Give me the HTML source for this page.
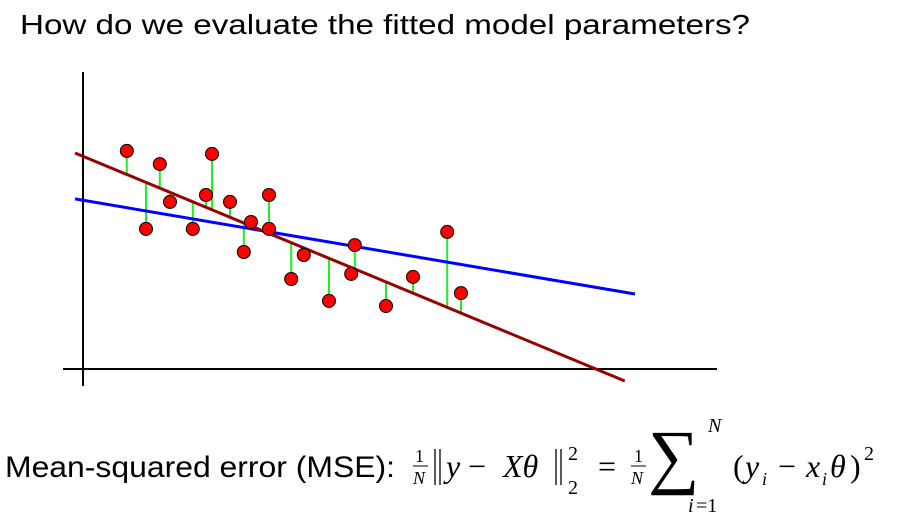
<!DOCTYPE html>
<html><head><meta charset="utf-8"><style>
html,body{margin:0;padding:0;background:#fff;}
svg{display:block;}
.m{font-family:"Liberation Serif",serif;font-style:italic;}
.r{font-family:"Liberation Serif",serif;}
</style></head><body>
<svg id="chart" width="899" height="520" viewBox="0 0 899 520">
<text x="20" y="34" font-family="Liberation Sans, sans-serif" font-size="28" textLength="730" lengthAdjust="spacingAndGlyphs" fill="#000">How do we evaluate the fitted model parameters?</text>
<line x1="83" y1="72" x2="83" y2="386" stroke="#000" stroke-width="2"/>
<line x1="63" y1="369" x2="717" y2="369" stroke="#000" stroke-width="2"/>
<g id="resid"></g>
<g id="lines"></g>
<g id="pts"></g>
<text x="5" y="477" font-family="Liberation Sans, sans-serif" font-size="30" textLength="390" lengthAdjust="spacingAndGlyphs">Mean-squared error (MSE):</text>
<g>
<text x="415" y="462" class="r" font-size="18">1</text>
<line x1="413" y1="466" x2="428" y2="466" stroke="#000" stroke-width="1"/>
<text x="413" y="484" class="m" font-size="18">N</text>
<path d="M435 449V485M440 449V485M556 449V485M561 449V485" stroke="#000" stroke-width="1.3" fill="none"/>
<text x="446" y="477" class="m" font-size="32">y</text>
<text x="468" y="477" class="r" font-size="32">−</text>
<text x="503" y="477" class="m" font-size="32">Xθ</text>
<text x="568" y="460" class="r" font-size="20">2</text>
<text x="568" y="494" class="r" font-size="20">2</text>
<text x="598" y="477" class="r" font-size="32">=</text>
<text x="634" y="462" class="r" font-size="18">1</text>
<line x1="631" y1="466" x2="646" y2="466" stroke="#000" stroke-width="1"/>
<text x="631" y="484" class="m" font-size="18">N</text>
<text x="648" y="480" class="r" font-size="72">∑</text>
<text x="708" y="432" class="m" font-size="20">N</text>
<text x="688" y="512" class="m" font-size="20">i</text>
<text x="696" y="512" class="r" font-size="20">=1</text>
<text x="733" y="477" class="r" font-size="32">(</text>
<text x="745" y="477" class="m" font-size="32">y</text>
<text x="762" y="485" class="m" font-size="18">i</text>
<text x="778" y="477" class="r" font-size="32">−</text>
<text x="806" y="477" class="m" font-size="32">x</text>
<text x="822" y="485" class="m" font-size="18">i</text>
<text x="830" y="477" class="m" font-size="32">θ</text>
<text x="850" y="477" class="r" font-size="32">)</text>
<text x="864" y="460" class="r" font-size="20">2</text>
</g>
</svg>
<script>
const xs=[0.73,1.05,1.28,1.45,1.83,2.05,2.15,2.45,2.68,2.8,3.1,3.1,3.47,3.68,4.1,4.47,4.53,5.05,5.5,6.07,6.3];
const ys=[7.27,4.67,6.83,5.57,4.67,5.8,7.17,5.57,3.9,4.9,5.8,4.67,3.0,3.8,2.27,3.17,4.13,2.1,3.07,4.57,2.53];
const redLine=[[-0.133,7.2],[9.03,-0.4]];
const blueLine=[[-0.133,5.67],[9.2,2.5]];
const NS='http://www.w3.org/2000/svg';
function sx(v){return 83+v*60;}
function sy(v){return 369-v*30;}
function redAt(x){const [a,b]=redLine;return a[1]+(b[1]-a[1])*(x-a[0])/(b[0]-a[0]);}
const resid=document.getElementById('resid'),lines=document.getElementById('lines'),pts=document.getElementById('pts');
for(let i=0;i<xs.length;i++){
  const l=document.createElementNS(NS,'line');
  l.setAttribute('x1',sx(xs[i]));l.setAttribute('x2',sx(xs[i]));
  l.setAttribute('y1',sy(ys[i]));l.setAttribute('y2',sy(redAt(xs[i])));
  l.setAttribute('stroke','#22ee22');l.setAttribute('stroke-width','2');
  
  
  resid.appendChild(l);
}
[[blueLine,'#0000ff','blue-fit-line'],[redLine,'#990000','red-fit-line']].forEach(([ln,c,n])=>{
  const l=document.createElementNS(NS,'line');
  l.setAttribute('x1',sx(ln[0][0]));l.setAttribute('y1',sy(ln[0][1]));
  l.setAttribute('x2',sx(ln[1][0]));l.setAttribute('y2',sy(ln[1][1]));
  l.setAttribute('stroke',c);l.setAttribute('stroke-width','3');
  
  
  lines.appendChild(l);
});
for(let i=0;i<xs.length;i++){
  const c=document.createElementNS(NS,'circle');
  c.setAttribute('cx',sx(xs[i]));c.setAttribute('cy',sy(ys[i]));c.setAttribute('r','6.5');
  c.setAttribute('fill','#ff0000');c.setAttribute('stroke','#000');c.setAttribute('stroke-width','1');
  
  
  pts.appendChild(c);
}
</script>
</body></html>
